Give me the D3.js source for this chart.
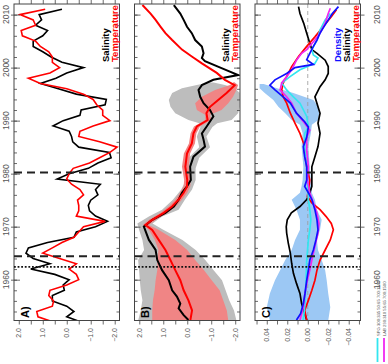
<!DOCTYPE html>
<html><head><meta charset="utf-8">
<script src="https://cdn.jsdelivr.net/npm/d3@7"></script>
<style>body{margin:0;background:#fff}svg{display:block;font-family:"Liberation Sans",Arial,sans-serif}</style>
</head><body><svg id="c" width="388" height="364"></svg>
<script>
// ---------- DATA ----------
const yearsA = d3.range(1952, 2012);
const salinityA = [-0.6,0.0,-0.3,0.0,0.6,0.6,0.1,0.15,-0.1,0.5,
 1.5,0.7,1.4,1.7,1.6,0.8,-0.3,-0.4,-1.2,-1.7,
 -1.2,-0.95,-0.9,-1.0,-1.3,-1.2,-1.4,0.4,-0.1,-0.9,
 -1.3,-1.85,-1.78,-0.5,-0.25,-0.2,-0.1,0.57,0.15,-0.55,
 -0.6,-1.6,-1.65,-0.4,0.35,1.1,0.45,0.0,-0.7,0.2,
 0.65,1.0,1.4,1.4,1.0,0.8,1.3,1.05,1.15,0.2];
const temperatureA = [0.55,1.2,1.25,0.6,0.55,0.75,0.7,0.0,-0.5,-0.4,
 -0.1,-0.4,0.3,1.0,0.6,0.2,-0.3,-0.5,-0.7,-1.6,
 -0.4,-0.5,-0.5,-0.45,-0.7,-0.55,-0.2,0.0,-0.1,-0.27,
 -0.95,-1.37,-1.8,-2.1,-1.37,-0.5,-0.55,-1.1,-1.8,-1.5,
 -1.5,-1.25,-1.1,-0.7,0.0,1.1,1.6,0.7,0.3,0.6,
 0.6,0.75,1.1,1.3,1.85,1.9,1.3,1.4,1.95,0.9];

const salinityB = [[1952.4,-0.05],[1953.3,0.15],[1954.6,0.36],[1955.5,0.29],[1956.8,0.43],[1958,0.63],[1959.9,0.77],[1961.8,1.05],[1963.7,1.25],[1965.6,1.32],[1967.5,1.6],[1970,1.81],[1971.3,1.46],[1972.6,0.91],[1973.8,0.56],[1975.1,0.36],[1976.4,0.22],[1977.6,0.01],[1978.8,-0.15],[1981.3,-0.12],[1983.2,-0.26],[1985.1,-0.74],[1986.4,-0.68],[1987.6,-0.61],[1988.9,-0.81],[1990.8,-1.09],[1992,-0.95],[1993.3,-0.68],[1994.5,-0.54],[1995.8,-0.47],[1996.7,-0.61],[1997.7,-1.09],[1998.6,-2.12],[1999.9,-1.43],[2001.2,-0.74],[2001.8,-0.61],[2002.7,-0.68],[2004,-0.61],[2005.2,-0.33],[2006.5,-0.19],[2007.7,0.01],[2009,0.15],[2010.2,0.29],[2011.8,0.56]];
const temperatureB = [[1952.4,-0.13],[1954.2,-0.2],[1956.1,-0.05],[1958,0.15],[1959.9,0.29],[1961.8,0.5],[1963.7,0.7],[1965.6,0.91],[1967.5,1.19],[1969.4,1.46],[1970.3,1.74],[1971.3,1.46],[1972.6,0.98],[1973.8,0.63],[1975.1,0.36],[1976.4,0.15],[1977.6,0.01],[1978.8,0.0],[1981.3,0.08],[1983.8,0.01],[1985.7,-0.19],[1987.6,-0.26],[1988.9,-0.4],[1990.1,-0.85],[1991.4,-0.8],[1992.6,-0.95],[1993.9,-1.29],[1995.2,-1.64],[1996.7,-1.98],[1997.7,-1.57],[1999,-1.23],[2000.8,-0.61],[2002.1,-0.19],[2003.4,0.22],[2005.2,0.63],[2006.5,0.91],[2007.7,1.11],[2009,1.32],[2010.2,1.53],[2011.8,1.87]];
// bands: [year, upper, lower]
const salinityBandB = [[1952.3,2.05,-2.05],[1954.2,1.94,-1.95],[1956.1,1.87,-1.75],[1958,1.94,-1.6],[1959.9,1.98,-1.45],[1961.8,2.01,-1.1],[1963.7,2.05,-0.75],[1965.6,1.8,-0.35],[1967.5,1.87,0.2],[1969.4,2.01,1.0],[1970.6,2.08,1.45],[1971.9,1.6,1.05],[1973.2,1.05,0.36],[1975.1,0.6,0.1],[1977,0.25,-0.2],[1978.8,0.05,-0.35],[1981,0.08,-0.35],[1983,-0.06,-0.5],[1985,-0.5,-0.95],[1987,-0.4,-0.8],[1988.8,-0.55,-1.05],[1989.5,-0.5,-1.25],[1990.1,-0.05,-1.85],[1991.4,0.5,-2.12],[1992.6,0.7,-2.19],[1993.9,0.77,-2.19],[1995.2,0.63,-2.19],[1996.1,0.22,-1.98],[1996.7,-0.4,-1.57],[1997.2,-0.9,-1.1]];
const temperatureBandB = [[1952.3,1.46,-1.71],[1954.2,1.46,-1.65],[1956.1,1.43,-1.5],[1958,1.36,-1.35],[1959.9,1.32,-1.02],[1961.8,1.25,-0.7],[1963.7,1.25,-0.33],[1965.6,1.2,0.0],[1967.5,1.35,0.5],[1969.4,1.6,1.2],[1970.3,1.85,1.6],[1971.3,1.6,1.3],[1972.6,1.13,0.83],[1973.8,0.78,0.48],[1975.1,0.5,0.22],[1976.4,0.3,0.0],[1977.6,0.15,-0.13],[1978.8,0.13,-0.13],[1981.3,0.22,-0.06],[1983.8,0.14,-0.12],[1985.7,-0.07,-0.32],[1987.6,-0.14,-0.38],[1988.9,-0.28,-0.53],[1990.1,-0.75,-1.0],[1991.1,-0.74,-0.95],[1992,-0.4,-1.43],[1993.3,-0.33,-1.71],[1994.5,-0.61,-1.91],[1995.8,-1.16,-2.05],[1996.7,-1.78,-2.12],[1997.3,-1.95,-1.95]];

const salinityC = [[1952.4,0.001],[1953.6,0.003],[1955.5,0.006],[1957.4,0.0076],[1959.3,0.011],[1961.2,0.014],[1963.1,0.0157],[1965,0.017],[1966.9,0.019],[1968.8,0.0206],[1970,0.021],[1971.3,0.020],[1972.6,0.016],[1973.8,0.0076],[1975.1,0.001],[1976.4,-0.002],[1977.6,-0.004],[1978.8,-0.004],[1981.3,-0.004],[1983.2,-0.007],[1985.1,-0.010],[1987.6,-0.012],[1989.5,-0.010],[1991.4,-0.012],[1992.6,-0.010],[1994.5,-0.007],[1996.4,-0.012],[1997.7,-0.017],[1998.9,-0.020],[2000.2,-0.020],[2001.4,-0.017],[2002.7,-0.009],[2003.4,-0.004],[2004.6,-0.002],[2006.5,0.001],[2008.4,0.004],[2010.2,0.0076],[2011.5,0.009]];
const temperatureC = [[1952.4,0.001],[1954.2,0.003],[1956.1,-0.0006],[1958,-0.004],[1959.9,-0.007],[1961.8,-0.009],[1963.7,-0.012],[1965.6,-0.017],[1967.5,-0.022],[1969.4,-0.025],[1970.6,-0.023],[1971.9,-0.018],[1973.2,-0.012],[1974.5,-0.004],[1975.7,0.0004],[1977.2,-0.001],[1978.8,-0.002],[1981.3,0.001],[1983.8,0.003],[1985.7,0.004],[1987.6,0.0076],[1989.5,0.0124],[1991.4,0.017],[1993.3,0.0206],[1994.5,0.024],[1995.8,0.0254],[1997.1,0.024],[1998.3,0.0206],[2000.2,0.0157],[2002.1,0.009],[2004,0.001],[2005.8,-0.007],[2007.7,-0.015],[2009.6,-0.023],[2010.9,-0.028]];
const densityC = [[1952.4,0.011],[1953.6,0.007],[1955.5,0.0043],[1957.4,0.0027],[1959.9,0.001],[1961.8,-0.0006],[1963.7,-0.002],[1965.6,-0.0055],[1967.5,-0.008],[1969.4,-0.010],[1971.3,-0.009],[1973.2,-0.007],[1975.1,-0.004],[1976.4,-0.0006],[1977.6,0.003],[1978.8,0.001],[1981.3,0.001],[1983.2,0.003],[1985.1,0.0043],[1986.9,0.001],[1988.8,-0.0006],[1989.8,0.003],[1991.4,0.011],[1993.3,0.017],[1994.5,0.024],[1995.8,0.032],[1996.7,0.037],[1997.7,0.032],[1998.9,0.0206],[2000,0.0124],[2000.6,-0.0055],[2001.5,0.001],[2002.7,-0.002],[2004,-0.0055],[2005.2,-0.009],[2006.5,-0.012],[2008.4,-0.018],[2010.2,-0.024],[2011.5,-0.030]];
const densitySPG = [[1952.4,0.0043],[1955.5,0.0027],[1959.9,0.0017],[1963.7,0.001],[1967.5,-0.0006],[1969.4,-0.002],[1971.3,-0.003],[1973.2,-0.002],[1975.1,-0.0006],[1978.8,0.0004],[1981.3,0.001],[1984.4,0.003],[1987.6,0.003],[1988.8,-0.0006],[1990.8,0.001],[1993.3,0.0076],[1994.5,0.014],[1995.8,0.0206],[1997.1,0.0254],[1998.3,0.0173],[1999.6,0.0076],[2000.8,-0.007],[2001.8,-0.010],[2002.4,-0.0055],[2003.4,-0.004],[2005.2,-0.009],[2007.1,-0.012],[2009,-0.017],[2010.2,-0.022]];
const densityLAB = [[1952.4,0.0076],[1954.8,0.0043],[1957.4,0.0027],[1959.9,0.0004],[1961.8,-0.002],[1963.7,-0.004],[1966.3,-0.007],[1968.8,-0.010],[1970.6,-0.011],[1972.6,-0.009],[1974.5,-0.0055],[1976.4,-0.002],[1978.8,0.0004],[1981.3,-0.0006],[1984.4,0.001],[1986.9,0.001],[1988.2,-0.002],[1989.5,0.003],[1991.4,0.011],[1993.3,0.0157],[1994.5,0.0206],[1995.8,0.027],[1997.1,0.0254],[1998.3,0.0206],[1999.6,0.0157],[2001.4,0.011],[2002.7,0.006],[2003.4,0.001],[2005.2,-0.007],[2006.5,-0.012],[2008.4,-0.017],[2010.2,-0.020],[2011.2,-0.022]];
const densityBandC = [[1952.3,0.037,-0.020],[1954.8,0.040,-0.022],[1957.4,0.037,-0.020],[1959.9,0.032,-0.0185],[1961.8,0.027,-0.017],[1963.7,0.022,-0.0136],[1965.6,0.0157,-0.010],[1967.5,0.0124,-0.009],[1969.4,0.0076,-0.012],[1971.3,0.0076,-0.0136],[1973.2,0.011,-0.009],[1975.1,0.0157,-0.007],[1976.4,0.0076,-0.004],[1977.6,0.006,-0.004],[1978.8,0.005,-0.003],[1981.3,0.0043,-0.002],[1985.1,0.006,-0.0006],[1987.6,0.005,-0.003],[1989.2,0.0076,-0.004],[1990.1,0.0157,-0.0103],[1991.4,0.022,-0.011],[1992.6,0.0287,-0.0103],[1993.9,0.0336,-0.0055],[1995.2,0.042,0.0141],[1996.1,0.047,0.030],[1996.9,0.047,0.043]];

const dashedYears = [1980.2, 1964.4];
const dottedYears = [1962.4];
const yearLabels = [1960, 1970, 1980, 1990, 2000, 2010];
const tsTicks = [2, 1, 0, -1, -2];
const tsTickLabels = ["2.0", "1.0", "0.0", "\u22121.0", "\u22122.0"];
const densTicks = [0.04, 0.02, 0, -0.02, -0.04];
const densTickLabels = ["0.04", "0.02", "0.00", "\u22120.02", "\u22120.04"];
const legendTS = ["Salinity", "Temperature"];
const legendC = ["Density", "Salinity", "Temperature"];
const regionLegend = ["SPG 300:335 50:65 700:1500", "LAB 290:310 55:65 700:1500"];

// ---------- LAYOUT ----------
const svg = d3.select("#c");
const TOP = 4, BOT = 320.5;
const y = d3.scaleLinear().domain([1952.3, 2012]).range([BOT, TOP]);
const xA = d3.scaleLinear().domain([2.2, -2.2]).range([14, 119.5]);
const xB = d3.scaleLinear().domain([2.2, -2.2]).range([134.5, 240]);
const xC = d3.scaleLinear().domain([0.0515, -0.0515]).range([255, 360.5]);
const axisCol = "#555";

function rotText(g, x, yy, txt, o) {
  const t = g.append("text").attr("x", x).attr("y", yy)
    .attr("transform", `rotate(-90,${x},${yy})`).text(txt);
  for (const k in o) t.attr(k, o[k]);
  return t;
}

function panel(x, id, valueTicksMinor, valueTicks, valueLabels, leftLabels, rightLabels) {
  const [x0, x1] = x.range();
  const g = svg.append("g");
  svg.append("clipPath").attr("id", id).append("rect")
    .attr("x", x0).attr("y", TOP).attr("width", x1 - x0).attr("height", BOT - TOP);
  const plot = g.append("g").attr("clip-path", `url(#${id})`);
  const axes = g.append("g");
  const minor = d3.range(1954, 2012, 2);
  axes.append("g").attr("transform", `translate(${x0},0)`)
    .call(d3.axisRight(y).tickValues(minor).tickSize(3).tickFormat(""));
  axes.append("g").attr("transform", `translate(${x0},0)`)
    .call(d3.axisRight(y).tickValues(yearLabels).tickSize(6).tickFormat(""));
  axes.append("g").attr("transform", `translate(${x1},0)`)
    .call(d3.axisLeft(y).tickValues(minor).tickSize(3).tickFormat(""));
  axes.append("g").attr("transform", `translate(${x1},0)`)
    .call(d3.axisLeft(y).tickValues(yearLabels).tickSize(6).tickFormat(""));
  if (leftLabels) {
    axes.append("g").attr("transform", `translate(${x0},0)`)
      .call(d3.axisLeft(y).tickValues(yearLabels).tickSize(3).tickFormat(""));
    yearLabels.forEach(yr => rotText(axes, 9, y(yr), yr, {"text-anchor":"middle","font-size":"8.5px","fill":axisCol}));
  }
  if (rightLabels) {
    axes.append("g").attr("transform", `translate(${x1},0)`)
      .call(d3.axisRight(y).tickValues(yearLabels).tickSize(4).tickFormat(""));
    yearLabels.forEach(yr => rotText(axes, 380, y(yr), yr, {"text-anchor":"middle","font-size":"8.5px","fill":axisCol}));
  }
  axes.append("g").attr("transform", `translate(0,${TOP})`)
    .call(d3.axisTop(x).tickValues(valueTicksMinor).tickSize(4).tickFormat(""));
  axes.append("g").attr("transform", `translate(0,${BOT})`)
    .call(d3.axisBottom(x).tickValues(valueTicksMinor).tickSize(4).tickFormat(""));
  valueTicks.forEach((v, i) => rotText(axes, x(v) + 2.5, 328, valueLabels[i],
    {"text-anchor":"end","font-size":"7px","fill":axisCol}));
  axes.selectAll(".domain").remove();
  axes.selectAll(".tick line").attr("stroke", "#444").attr("stroke-width", 0.8);
  axes.append("rect").attr("x", x0).attr("y", TOP).attr("width", x1 - x0).attr("height", BOT - TOP)
    .attr("fill", "none").attr("stroke", "#444").attr("stroke-width", 1);
  return {plot, axes, x0, x1};
}

function refLines(p) {
  dashedYears.forEach(yr => p.axes.append("line").attr("x1", p.x0).attr("x2", p.x1)
    .attr("y1", y(yr)).attr("y2", y(yr)).attr("stroke", "#222").attr("stroke-width", 2)
    .attr("stroke-dasharray", "8,5"));
  dottedYears.forEach(yr => p.axes.append("line").attr("x1", p.x0).attr("x2", p.x1)
    .attr("y1", y(yr)).attr("y2", y(yr)).attr("stroke", "#111").attr("stroke-width", 1.8)
    .attr("stroke-dasharray", "1.8,1.8"));
}

const lineOf = x => d3.line().x(d => x(d[1])).y(d => y(d[0]));
const areaOf = x => d3.area().y(d => y(d[0])).x0(d => x(d[1])).x1(d => x(d[2]));

// ---------- PANEL A ----------
const pA = panel(xA, "clipA", d3.range(-2, 2.01, 0.5), tsTicks, tsTickLabels, true, false);
const serA = (vals) => yearsA.map((yr, i) => [yr, vals[i]]);
pA.plot.append("path").attr("d", lineOf(xA)(serA(salinityA))).attr("fill", "none").attr("stroke", "#000").attr("stroke-width", 1.6);
pA.plot.append("path").attr("d", lineOf(xA)(serA(temperatureA))).attr("fill", "none").attr("stroke", "#f00").attr("stroke-width", 1.6);
refLines(pA);

// ---------- PANEL B ----------
const pB = panel(xB, "clipB", d3.range(-2, 2.01, 0.5), tsTicks, tsTickLabels, false, false);
pB.plot.append("path").attr("d", areaOf(xB)(salinityBandB)).attr("fill", "#bdbdbd");
pB.plot.append("path").attr("d", areaOf(xB)(temperatureBandB)).attr("fill", "#f08585");
pB.plot.append("path").attr("d", lineOf(xB)(salinityB)).attr("fill", "none").attr("stroke", "#000").attr("stroke-width", 2);
pB.plot.append("path").attr("d", lineOf(xB)(temperatureB)).attr("fill", "none").attr("stroke", "#f00").attr("stroke-width", 2);
refLines(pB);

// ---------- PANEL C ----------
const pC = panel(xC, "clipC", d3.range(-0.05, 0.0501, 0.01), densTicks, densTickLabels, false, true);
pC.plot.append("path").attr("d", areaOf(xC)(densityBandC)).attr("fill", "#9cc8f4");
pC.plot.append("line").attr("x1", xC(0)).attr("x2", xC(0)).attr("y1", TOP).attr("y2", BOT)
  .attr("stroke", "#999").attr("stroke-width", 0.8).attr("stroke-dasharray", "4,3");
const cSeries = [[salinityC, "#000"], [temperatureC, "#f00"], [densitySPG, "#33e6f0"], [densityLAB, "#f028f0"], [densityC, "#1010ff"]];
cSeries.forEach(([d, c]) => pC.plot.append("path").attr("d", lineOf(xC)(d)).attr("fill", "none").attr("stroke", c).attr("stroke-width", 1.7));
refLines(pC);

// ---------- LEGENDS & LABELS ----------
const lg = {"font-size":"9.5px","font-weight":"bold","text-anchor":"start"};
[pA, pB].forEach(p => {
  rotText(p.axes, p.x1 - 11, 62, legendTS[0], Object.assign({fill:"#000"}, lg));
  rotText(p.axes, p.x1 - 2, 62, legendTS[1], Object.assign({fill:"#f00"}, lg));
});
rotText(pC.axes, pC.x1 - 20, 62, legendC[0], Object.assign({fill:"#1010ff"}, lg));
rotText(pC.axes, pC.x1 - 11, 62, legendC[1], Object.assign({fill:"#000"}, lg));
rotText(pC.axes, pC.x1 - 2, 62, legendC[2], Object.assign({fill:"#f00"}, lg));

[["A)", pA], ["B)", pB], ["C)", pC]].forEach(([t, p]) =>
  rotText(p.axes, p.x0 + 14.5, 318, t, {"font-size":"11px","font-weight":"bold","fill":"#000","text-anchor":"start"}));

// region legend (bottom right)
const regCols = ["#33e6f0", "#f028f0"];
regionLegend.forEach((t, i) => {
  const lx = 377.5 + i * 6.5;
  svg.append("line").attr("x1", lx).attr("x2", lx).attr("y1", 338).attr("y2", 362)
    .attr("stroke", regCols[i]).attr("stroke-width", 1.8);
  rotText(svg, lx + 2.2, 336, t, {"font-size":"4.2px","fill":"#555","text-anchor":"start"});
});
</script></body></html>
